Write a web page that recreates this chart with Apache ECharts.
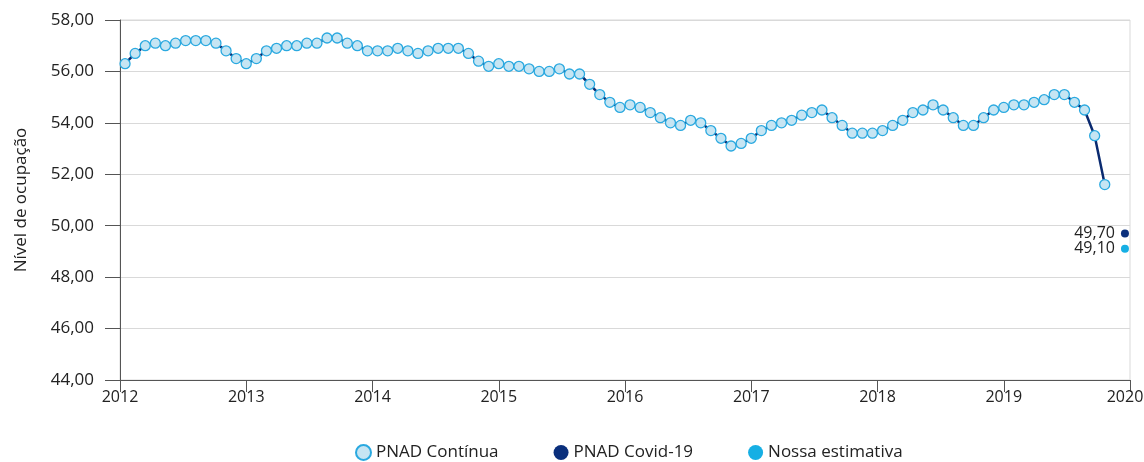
<!DOCTYPE html>
<html>
<head>
<meta charset="utf-8">
<script src="https://cdn.jsdelivr.net/npm/echarts@6/dist/echarts.min.js"></script>
<style>
  html, body { margin: 0; padding: 0; background: #fff; }
  #myChart { width: 1144px; height: 462px; }
</style>
</head>
<body>
<div id="myChart"></div>
<script>
// trimestres móveis, mar/2012 a abr/2020 (PNAD Contínua)
var pnadContinua = [
  56.3, 56.7, 57.0, 57.1, 57.0, 57.1, 57.2, 57.2, 57.2, 57.1,
  56.8, 56.5, 56.3, 56.5, 56.8, 56.9, 57.0, 57.0, 57.1, 57.1,
  57.3, 57.3, 57.1, 57.0, 56.8, 56.8, 56.8, 56.9, 56.8, 56.7,
  56.8, 56.9, 56.9, 56.9, 56.7, 56.4, 56.2, 56.3, 56.2, 56.2,
  56.1, 56.0, 56.0, 56.1, 55.9, 55.9, 55.5, 55.1, 54.8, 54.6,
  54.7, 54.6, 54.4, 54.2, 54.0, 53.9, 54.1, 54.0, 53.7, 53.4,
  53.1, 53.2, 53.4, 53.7, 53.9, 54.0, 54.1, 54.3, 54.4, 54.5,
  54.2, 53.9, 53.6, 53.6, 53.6, 53.7, 53.9, 54.1, 54.4, 54.5,
  54.7, 54.5, 54.2, 53.9, 53.9, 54.2, 54.5, 54.6, 54.7, 54.7,
  54.8, 54.9, 55.1, 55.1, 54.8, 54.5, 53.5, 51.6
];
var pnadCovid = 49.7;
var nossaEstimativa = 49.1;
var yearTicks = [2012, 2013, 2014, 2015, 2016, 2017, 2018, 2019, 2020];

// categorias mensais (100 posições no eixo)
var meses = ['jan', 'fev', 'mar', 'abr', 'mai', 'jun', 'jul', 'ago', 'set', 'out', 'nov', 'dez'];
var categories = [];
for (var k = 0; k < 100; k++) {
  var m = 2 + k;
  categories.push(meses[m % 12] + '/' + (2012 + Math.floor(m / 12)));
}

function pad(list) {
  var out = list.slice();
  while (out.length < categories.length) out.push(null);
  return out;
}
function lastOnly(v) {
  var out = [];
  for (var i = 0; i < categories.length - 1; i++) out.push(null);
  out.push(v);
  return out;
}
function br(v) { return v.toFixed(2).replace('.', ','); }

var font = 'Open Sans';
var txt = '#222';
var myChart = echarts.init(document.getElementById('myChart'));
myChart.setOption({
  animation: false,
  textStyle: { fontFamily: font, color: txt },
  grid: {
    left: 120, right: 14, top: 20, bottom: 82,
    outerBoundsMode: 'none',
    containLabel: false,
    show: true, borderColor: '#d9d9d9', borderWidth: 1
  },
  legend: {
    bottom: -4,
    left: 350,
    itemGap: 55,
    itemWidth: 15,
    itemHeight: 15,
    icon: 'circle',
    textStyle: { fontFamily: font, fontSize: 17, color: txt },
    data: ['PNAD Contínua', 'PNAD Covid-19', 'Nossa estimativa']
  },
  xAxis: [{
    type: 'category',
    data: categories,
    boundaryGap: true,
    position: 'top',
    show: false
  }, {
    type: 'value',
    min: yearTicks[0],
    max: yearTicks[yearTicks.length - 1],
    interval: 1,
    position: 'bottom',
    axisLine: { lineStyle: { color: '#555', width: 1 } },
    axisTick: { show: true, length: 12, lineStyle: { color: '#555' } },
    axisLabel: {
      fontSize: 16, color: txt, margin: 9,
      formatter: function (v) {
        return v === yearTicks[yearTicks.length - 1] ? '{last|' + v + '}' : String(v);
      },
      rich: { last: { fontSize: 16, color: txt, padding: [0, 10, 0, 0] } }
    },
    splitLine: { show: false }
  }],
  yAxis: {
    type: 'value',
    min: 44,
    max: 58,
    interval: 2,
    name: 'Nível de ocupação',
    nameLocation: 'middle',
    nameGap: 90,
    nameTextStyle: { fontSize: 17, color: txt },
    axisLine: { show: true, lineStyle: { color: '#555' } },
    axisTick: { show: true, length: 15, lineStyle: { color: '#555' } },
    axisLabel: { fontSize: 17, color: txt, margin: 26, formatter: br },
    splitLine: { lineStyle: { color: '#d9d9d9' } }
  },
  series: [{
    name: 'PNAD Contínua',
    type: 'line',
    xAxisIndex: 0,
    data: pad(pnadContinua),
    symbol: 'circle',
    symbolSize: 10,
    showAllSymbol: true,
    lineStyle: { color: '#0a2a70', width: 2.5 },
    itemStyle: { color: '#c6e5f3', borderColor: '#2aa9e0', borderWidth: 1.3, opacity: 1 },
    emphasis: { disabled: true }
  }, {
    name: 'PNAD Covid-19',
    type: 'scatter',
    xAxisIndex: 0,
    data: lastOnly(pnadCovid),
    symbolSize: 8,
    itemStyle: { color: '#0a2f7c', opacity: 1 },
    label: {
      show: true, position: 'left', distance: 6,
      fontSize: 16, color: txt, formatter: function (p) { return br(p.value); }
    },
    emphasis: { disabled: true }
  }, {
    name: 'Nossa estimativa',
    type: 'scatter',
    xAxisIndex: 0,
    data: lastOnly(nossaEstimativa),
    symbolSize: 8,
    itemStyle: { color: '#16afe4', opacity: 1 },
    label: {
      show: true, position: 'left', distance: 6,
      fontSize: 16, color: txt, formatter: function (p) { return br(p.value); }
    },
    emphasis: { disabled: true }
  }]
});
</script>
</body>
</html>
